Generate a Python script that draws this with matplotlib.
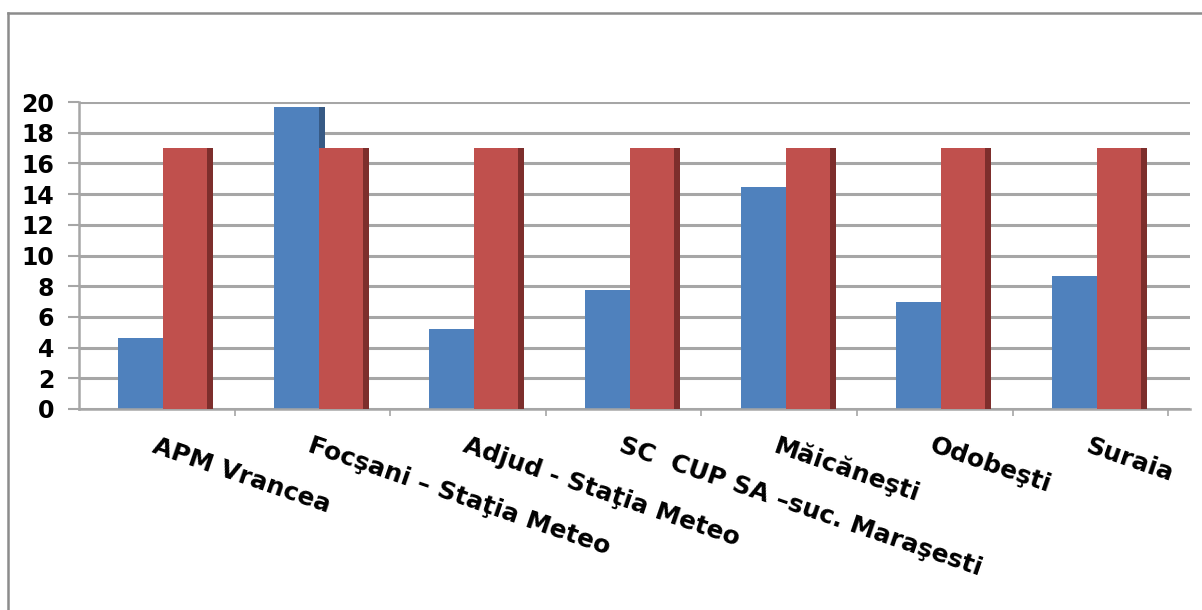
import numpy as np
from matplotlib import pyplot as plt
from matplotlib.lines import Line2D


categories = [
    "APM Vrancea",
    "Focşani – Staţia Meteo",
    "Adjud - Staţia Meteo",
    "SC  CUP SA –suc. Maraşesti",
    "Măicăneşti",
    "Odobeşti",
    "Suraia",
]
measured = [4.65, 19.65, 5.2, 7.75, 14.45, 6.95, 8.65]
limit = [17, 17, 17, 17, 17, 17, 17]
y_ticks = [0, 2, 4, 6, 8, 10, 12, 14, 16, 18, 20]

BLUE, BLUE_SIDE = "#4F81BD", "#375A85"
RED, RED_SIDE = "#C0504D", "#7D2E2C"
GRID = "#a6a6a6"

W, H = 1202, 610
fig = plt.figure(figsize=(W / 100, H / 100), dpi=100)
ax = fig.add_axes([79 / W, 1 - 409 / H, (1190 - 79) / W, (409 - 102) / H])

idx = np.arange(len(categories))

# front faces + dark right-side faces to mimic the Excel 3D columns
ax.bar(idx - 0.248, measured, width=0.289, align="edge", color=BLUE, zorder=2)
ax.bar(idx + 0.041, measured, width=0.039, align="edge", color=BLUE_SIDE, zorder=2)
ax.bar(idx + 0.041, limit, width=0.283, align="edge", color=RED, zorder=3)
ax.bar(idx + 0.324, limit, width=0.039, align="edge", color=RED_SIDE, zorder=3)

ax.set_xlim(-0.5, 6.64)
ax.set_ylim(0, 20)
ax.set_yticks(y_ticks)
ax.set_yticklabels([str(t) for t in y_ticks])
ax.yaxis.grid(True, color=GRID, linewidth=2.2, zorder=0)
ax.set_axisbelow(True)

ax.set_xticks([])
ax.set_xticks(idx + 0.5, minor=True)
ax.tick_params(axis="x", which="minor", length=5, width=1.2, color=GRID)
ax.tick_params(axis="y", length=8, width=1.5, color=GRID, pad=10,
               labelsize=17)
for lbl in ax.get_yticklabels():
    lbl.set_fontweight("bold")
    lbl.set_family("DejaVu Sans")

for side in ["top", "right"]:
    ax.spines[side].set_visible(False)
for side in ["left", "bottom"]:
    ax.spines[side].set_color(GRID)
    ax.spines[side].set_linewidth(1.8)

for i, name in enumerate(categories):
    ax.text(i, -0.08, name, transform=ax.get_xaxis_transform(),
            rotation=-19, rotation_mode="anchor", ha="left", va="top",
            fontsize=18, fontweight="bold", family="DejaVu Sans")

# chart area border (left and top only visible)
fig.add_artist(Line2D([8 / W, 8 / W], [0, 1 - 13 / H], color="#8c8c8c",
                      linewidth=1.8, transform=fig.transFigure))
fig.add_artist(Line2D([8 / W, 1], [1 - 13 / H, 1 - 13 / H], color="#8c8c8c",
                      linewidth=1.8, transform=fig.transFigure))

fig.savefig("out.png", dpi=100)
